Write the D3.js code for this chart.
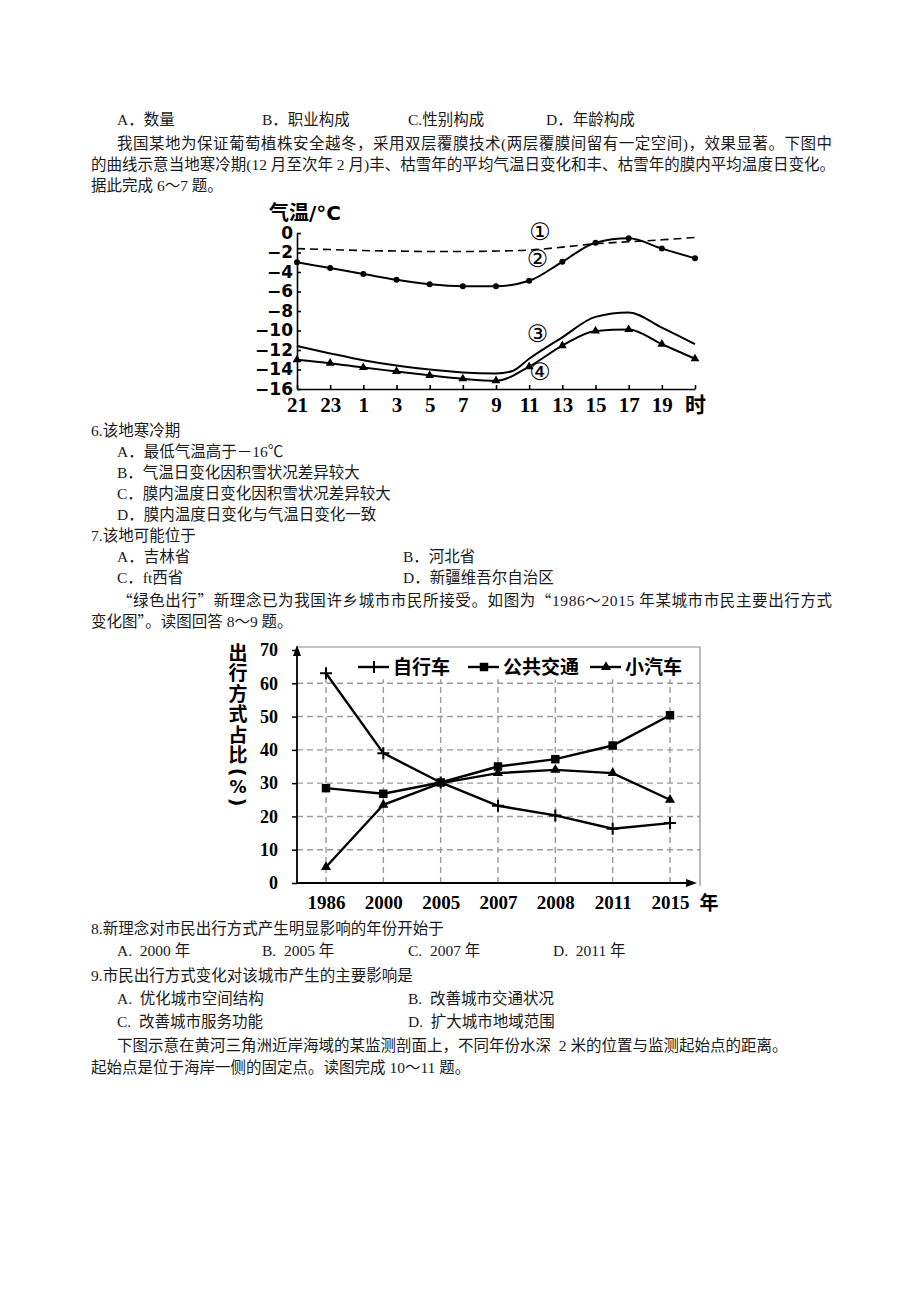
<!DOCTYPE html>
<html>
<head>
  <meta charset="utf-8">
  <title>exam-charts</title>
  <style>
    * { margin: 0; padding: 0; }
    body { background: #fff; }
    svg { display: block; }
    .txt {
      font-family: "Liberation Serif", "Noto Sans CJK SC", serif;
      font-size: 15.5px;
      fill: #1a1a1a;
    }
    .q { font-family: "Noto Sans CJK SC", sans-serif; }
  </style>
</head>
<body>
  <svg id="page"></svg>
  <script src="https://cdn.jsdelivr.net/npm/d3@7"></script>
  <script>
    // ---- chart 1 data: hours since 21:00 ----
    const timeTicks = ['21', '23', '1', '3', '5', '7', '9', '11', '13', '15', '17', '19', '时'];
    const timeOffsets = [0, 2, 4, 6, 8, 10, 12, 14, 16, 18, 20, 22, 24];
    const tempTicks = [0, -2, -4, -6, -8, -10, -12, -14, -16];
    const curve1 = [-1.6, -1.7, -1.8, -1.85, -1.9, -1.9, -1.85, -1.75, -1.45, -1.1, -0.9, -0.7, -0.45];
    const curve2 = [-3.0, -3.6, -4.2, -4.8, -5.25, -5.45, -5.45, -4.9, -2.95, -1.0, -0.55, -1.6, -2.6];
    const curve3Offsets = [0, 2, 4, 6, 8, 10, 12, 13, 14, 16, 18, 20, 22, 24];
    const curve3 = [-11.6, -12.35, -13.05, -13.6, -14.0, -14.3, -14.4, -14.15, -12.9, -10.7, -8.6, -8.15, -9.7, -11.4];
    const curve4 = [-13.0, -13.35, -13.8, -14.2, -14.6, -14.95, -15.15, -13.7, -11.55, -10.05, -9.9, -11.4, -12.9];
    const curveNames = ['①', '②', '③', '④'];

    // ---- chart 2 data ----
    const years = ['1986', '2000', '2005', '2007', '2008', '2011', '2015'];
    const shareTicks = [0, 10, 20, 30, 40, 50, 60, 70];
    const bike = [63, 39, 30.2, 23.2, 20.3, 16.3, 18];
    const transit = [28.5, 26.8, 30.2, 35, 37.2, 41.3, 50.4];
    const car = [4.8, 23.5, 30, 33, 34, 33, 25];
    const seriesNames = ['自行车', '公共交通', '小汽车'];
    const yTitleChars = ['出', '行', '方', '式', '占', '比', '(', '%', ')'];

    // ---- page text ----
    const pageLines = [
      { x: 117, y: 119, t: 'A．数量' },
      { x: 262, y: 119, t: 'B．职业构成' },
      { x: 408, y: 119, t: 'C.性别构成' },
      { x: 546, y: 119, t: 'D．年龄构成' },
      { x: 117, y: 143, t: '我国某地为保证葡萄植株安全越冬，采用双层覆膜技术(两层覆膜间留有一定空间)，效果显著。下图中', w: 715 },
      { x: 91, y: 164, t: '的曲线示意当地寒冷期(12 月至次年 2 月)丰、枯雪年的平均气温日变化和丰、枯雪年的膜内平均温度日变化。', w: 744 },
      { x: 91, y: 185, t: '据此完成 6～7 题。' },
      { x: 91, y: 430, t: '6.该地寒冷期' },
      { x: 117, y: 451, t: 'A．最低气温高于－16℃' },
      { x: 117, y: 472, t: 'B．气温日变化因积雪状况差异较大' },
      { x: 117, y: 493, t: 'C．膜内温度日变化因积雪状况差异较大' },
      { x: 117, y: 514, t: 'D．膜内温度日变化与气温日变化一致' },
      { x: 91, y: 535, t: '7.该地可能位于' },
      { x: 117, y: 556, t: 'A．吉林省' },
      { x: 403, y: 556, t: 'B．河北省' },
      { x: 117, y: 577, t: 'C．ft西省' },
      { x: 403, y: 577, t: 'D．新疆维吾尔自治区' },
      { x: 117, y: 600, t: '“绿色出行”新理念已为我国许乡城市市民所接受。如图为“1986～2015 年某城市市民主要出行方式', w: 715 },
      { x: 91, y: 621, t: '变化图”。读图回答 8～9 题。' },
      { x: 91, y: 928, t: '8.新理念对市民出行方式产生明显影响的年份开始于' },
      { x: 117, y: 950, t: 'A.  2000 年' },
      { x: 262, y: 950, t: 'B.  2005 年' },
      { x: 408, y: 950, t: 'C.  2007 年' },
      { x: 553, y: 950, t: 'D.  2011 年' },
      { x: 91, y: 975, t: '9.市民出行方式变化对该城市产生的主要影响是' },
      { x: 117, y: 998, t: 'A.  优化城市空间结构' },
      { x: 408, y: 998, t: 'B.  改善城市交通状况' },
      { x: 117, y: 1021, t: 'C.  改善城市服务功能' },
      { x: 408, y: 1021, t: 'D.  扩大城市地域范围' },
      { x: 117, y: 1045, t: '下图示意在黄河三角洲近岸海域的某监测剖面上，不同年份水深  2 米的位置与监测起始点的距离。' },
      { x: 91, y: 1067, t: '起始点是位于海岸一侧的固定点。读图完成 10～11 题。' }
    ];

    const svg = d3.select('#page').attr('width', 920).attr('height', 1301);
    svg.append('rect').attr('width', 920).attr('height', 1301).attr('fill', '#fff');

    const texts = svg.append('g').attr('id', 'text')
      .selectAll('text')
      .data(pageLines)
      .enter()
      .append('text')
      .attr('class', 'txt')
      .attr('x', d => d.x)
      .attr('y', d => d.y)
      .attr('dominant-baseline', 'central')
      .style('white-space', 'pre');
    // curly quotes go in a CJK tspan so they are full width
    texts.each(function (d) {
      const t = d3.select(this);
      d.t.split(/([“”])/).filter(s => s.length).forEach(s => {
        t.append('tspan').attr('class', /[“”]/.test(s) ? 'q' : null).text(s);
      });
    });
    texts.filter(d => d.w)
      .attr('textLength', d => d.w)
      .attr('lengthAdjust', 'spacing');

    const cjkBold = '"DejaVu Sans", "Noto Sans CJK SC", sans-serif';
    const serifBold = '"Liberation Serif", "Noto Sans CJK SC", serif';

    // ================= chart 1 =================
    const c1 = svg.append('g').attr('id', 'chart-temp');
    const x1 = d3.scaleLinear().domain([0, 24]).range([297, 695]);
    const y1 = d3.scaleLinear().domain([-16, 0]).range([389, 233]);

    c1.append('g')
      .attr('transform', `translate(0, ${y1(-16)})`)
      .call(d3.axisBottom(x1).tickValues(timeOffsets).tickFormat((d, i) => timeTicks[i])
        .tickSize(-4).tickSizeOuter(0).tickPadding(8))
      .call(g => g.selectAll('line, path').attr('stroke', '#000').attr('stroke-width', 1.6))
      .call(g => g.selectAll('text')
        .attr('font-family', serifBold)
        .attr('font-size', 21)
        .attr('font-weight', 'bold')
        .attr('fill', '#000'));

    c1.append('g')
      .attr('transform', `translate(${x1(0)}, 0)`)
      .call(d3.axisLeft(y1).tickValues(tempTicks).tickSize(-4).tickSizeOuter(0).tickPadding(4)
        .tickFormat(d => d === 0 ? '0' : '−' + (-d)))
      .call(g => g.selectAll('line, path').attr('stroke', '#000').attr('stroke-width', 1.6))
      .call(g => g.selectAll('text')
        .attr('font-family', '"DejaVu Sans", sans-serif')
        .attr('font-size', 17)
        .attr('font-weight', 'bold')
        .attr('fill', '#000'));

    c1.append('text')
      .attr('x', 269)
      .attr('y', 220)
      .attr('font-family', cjkBold)
      .attr('font-size', 20)
      .attr('font-weight', 'bold')
      .text('气温/°C');

    const line1 = d3.line()
      .x(d => x1(d[0]))
      .y(d => y1(d[1]))
      .curve(d3.curveMonotoneX);

    const pts1 = timeOffsets.map((o, i) => [o, curve1[i]]);
    const pts2 = timeOffsets.map((o, i) => [o, curve2[i]]);
    const pts3 = curve3Offsets.map((o, i) => [o, curve3[i]]);
    const pts4 = timeOffsets.map((o, i) => [o, curve4[i]]);

    c1.append('path').attr('d', line1(pts1)).attr('fill', 'none')
      .attr('stroke', '#000').attr('stroke-width', 1.6).attr('stroke-dasharray', '8,5');
    [pts2, pts3, pts4].forEach(p => {
      c1.append('path').attr('d', line1(p)).attr('fill', 'none')
        .attr('stroke', '#000').attr('stroke-width', 2);
    });

    c1.append('g').selectAll('circle')
      .data(pts2).enter()
      .append('circle')
      .attr('cx', d => x1(d[0]))
      .attr('cy', d => y1(d[1]))
      .attr('r', 3)
      .attr('fill', '#000');

    c1.append('g').selectAll('path')
      .data(pts4).enter()
      .append('path')
      .attr('transform', d => `translate(${x1(d[0])}, ${y1(d[1])})`)
      .attr('d', d3.symbol(d3.symbolTriangle, 34))
      .attr('fill', '#000');

    // circled curve labels
    const namePos = [[14.65, 0.1], [14.5, -2.7], [14.5, -10.35], [14.65, -14.3]];
    c1.append('g').selectAll('text')
      .data(curveNames).enter()
      .append('text')
      .attr('x', (d, i) => x1(namePos[i][0]))
      .attr('y', (d, i) => y1(namePos[i][1]))
      .attr('text-anchor', 'middle')
      .attr('dominant-baseline', 'central')
      .attr('font-family', '"DejaVu Sans", "Noto Sans CJK SC", sans-serif')
      .attr('font-size', 24)
      .text(d => d);

    // ================= chart 2 =================
    const c2 = svg.append('g').attr('id', 'chart-travel');
    const x2 = d3.scalePoint().domain(years).range([326, 670]);
    const y2 = d3.scaleLinear().domain([0, 70]).range([883, 650]);
    const left2 = 297, right2 = 700, top2 = 647;

    // frame
    c2.append('path')
      .attr('d', `M${left2},${top2}H${right2}V${y2(0) + 3}`)
      .attr('fill', 'none').attr('stroke', '#8c8c8c').attr('stroke-width', 1.2);

    // dashed grid
    c2.append('g').selectAll('line')
      .data(shareTicks.filter(v => v > 0 && v < 70)).enter()
      .append('line')
      .attr('x1', left2).attr('x2', right2)
      .attr('y1', d => y2(d)).attr('y2', d => y2(d))
      .attr('stroke', '#9a9a9a').attr('stroke-width', 1.4).attr('stroke-dasharray', '6,4');
    c2.append('g').selectAll('line')
      .data(years).enter()
      .append('line')
      .attr('x1', d => x2(d)).attr('x2', d => x2(d))
      .attr('y1', y2(0)).attr('y2', y2(60) - 4)
      .attr('stroke', '#9a9a9a').attr('stroke-width', 1.4).attr('stroke-dasharray', '6,4');

    // y axis
    c2.append('g')
      .attr('transform', `translate(${left2}, 0)`)
      .call(d3.axisLeft(y2).tickValues(shareTicks).tickSize(5).tickSizeOuter(0).tickPadding(14))
      .call(g => g.select('.domain').remove())
      .call(g => g.selectAll('line').attr('stroke', '#000').attr('stroke-width', 1.5))
      .call(g => g.selectAll('text')
        .attr('font-family', serifBold)
        .attr('font-size', 18)
        .attr('font-weight', 'bold')
        .attr('fill', '#000'));

    // x axis labels
    c2.append('g')
      .attr('transform', `translate(0, ${y2(0)})`)
      .call(d3.axisBottom(x2).tickSize(0).tickPadding(13))
      .call(g => g.select('.domain').remove())
      .call(g => g.selectAll('text')
        .attr('font-family', serifBold)
        .attr('font-size', 19)
        .attr('font-weight', 'bold')
        .attr('fill', '#000'));

    c2.append('text')
      .attr('x', 709).attr('y', y2(0) + 20)
      .attr('text-anchor', 'middle')
      .attr('dominant-baseline', 'central')
      .attr('font-family', cjkBold).attr('font-size', 19).attr('font-weight', 'bold')
      .text('年');

    // axis lines with arrows
    c2.append('line')
      .attr('x1', left2).attr('x2', left2)
      .attr('y1', y2(0)).attr('y2', top2 + 4)
      .attr('stroke', '#000').attr('stroke-width', 1.8);
    c2.append('path')
      .attr('d', `M${left2},${top2 - 2}L${left2 - 4},${top2 + 9}L${left2 + 4},${top2 + 9}Z`)
      .attr('fill', '#000');
    c2.append('line')
      .attr('x1', left2).attr('x2', right2 - 10)
      .attr('y1', y2(0)).attr('y2', y2(0))
      .attr('stroke', '#000').attr('stroke-width', 1.8);
    c2.append('path')
      .attr('d', `M${right2 - 3},${y2(0)}L${right2 - 14},${y2(0) - 4}L${right2 - 14},${y2(0) + 4}Z`)
      .attr('fill', '#000');

    // y title, one glyph per row; brackets turned for vertical setting
    const titleRows = [653, 673, 694, 714, 735, 755, 772, 787, 802];
    c2.append('g').selectAll('text')
      .data(yTitleChars).enter()
      .append('text')
      .attr('transform', (d, i) => `translate(238, ${titleRows[i]})` + (/[()]/.test(d) ? ' rotate(90)' : ''))
      .attr('text-anchor', 'middle')
      .attr('dominant-baseline', 'central')
      .attr('font-family', cjkBold)
      .attr('font-size', d => d === '%' ? 17 : 19)
      .attr('font-weight', 'bold')
      .text(d => d);

    const line2 = d3.line().x(d => x2(d[0])).y(d => y2(d[1]));
    const plusPath = s => `M${-s},0H${s}M0,${-s}V${s}`;
    const markers = [
      g => g.append('path').attr('d', plusPath(6)).attr('stroke', '#000').attr('stroke-width', 2).attr('fill', 'none'),
      g => g.append('path').attr('d', d3.symbol(d3.symbolSquare, 72)).attr('fill', '#000'),
      g => g.append('path').attr('d', d3.symbol(d3.symbolTriangle, 44)).attr('fill', '#000')
    ];

    [bike, transit, car].forEach((vals, si) => {
      const pts = years.map((y, i) => [y, vals[i]]);
      c2.append('path').attr('d', line2(pts)).attr('fill', 'none')
        .attr('stroke', '#000').attr('stroke-width', 2.4);
      c2.append('g').selectAll('g')
        .data(pts).enter()
        .append('g')
        .attr('transform', d => `translate(${x2(d[0])}, ${y2(d[1])})`)
        .each(function () { markers[si](d3.select(this)); });
    });

    // legend
    const legendX = [358, 468, 590];
    const legend = c2.append('g').attr('id', 'legend');
    seriesNames.forEach((name, i) => {
      const g = legend.append('g').attr('transform', `translate(${legendX[i]}, 667)`);
      g.append('line').attr('x1', 0).attr('x2', 31).attr('stroke', '#000').attr('stroke-width', 2.4);
      markers[i](g.append('g').attr('transform', 'translate(16, 0)'));
      g.append('text')
        .attr('x', 35)
        .attr('dominant-baseline', 'central')
        .attr('font-family', cjkBold).attr('font-size', 19).attr('font-weight', 'bold')
        .text(name);
    });
  </script>
</body>
</html>
